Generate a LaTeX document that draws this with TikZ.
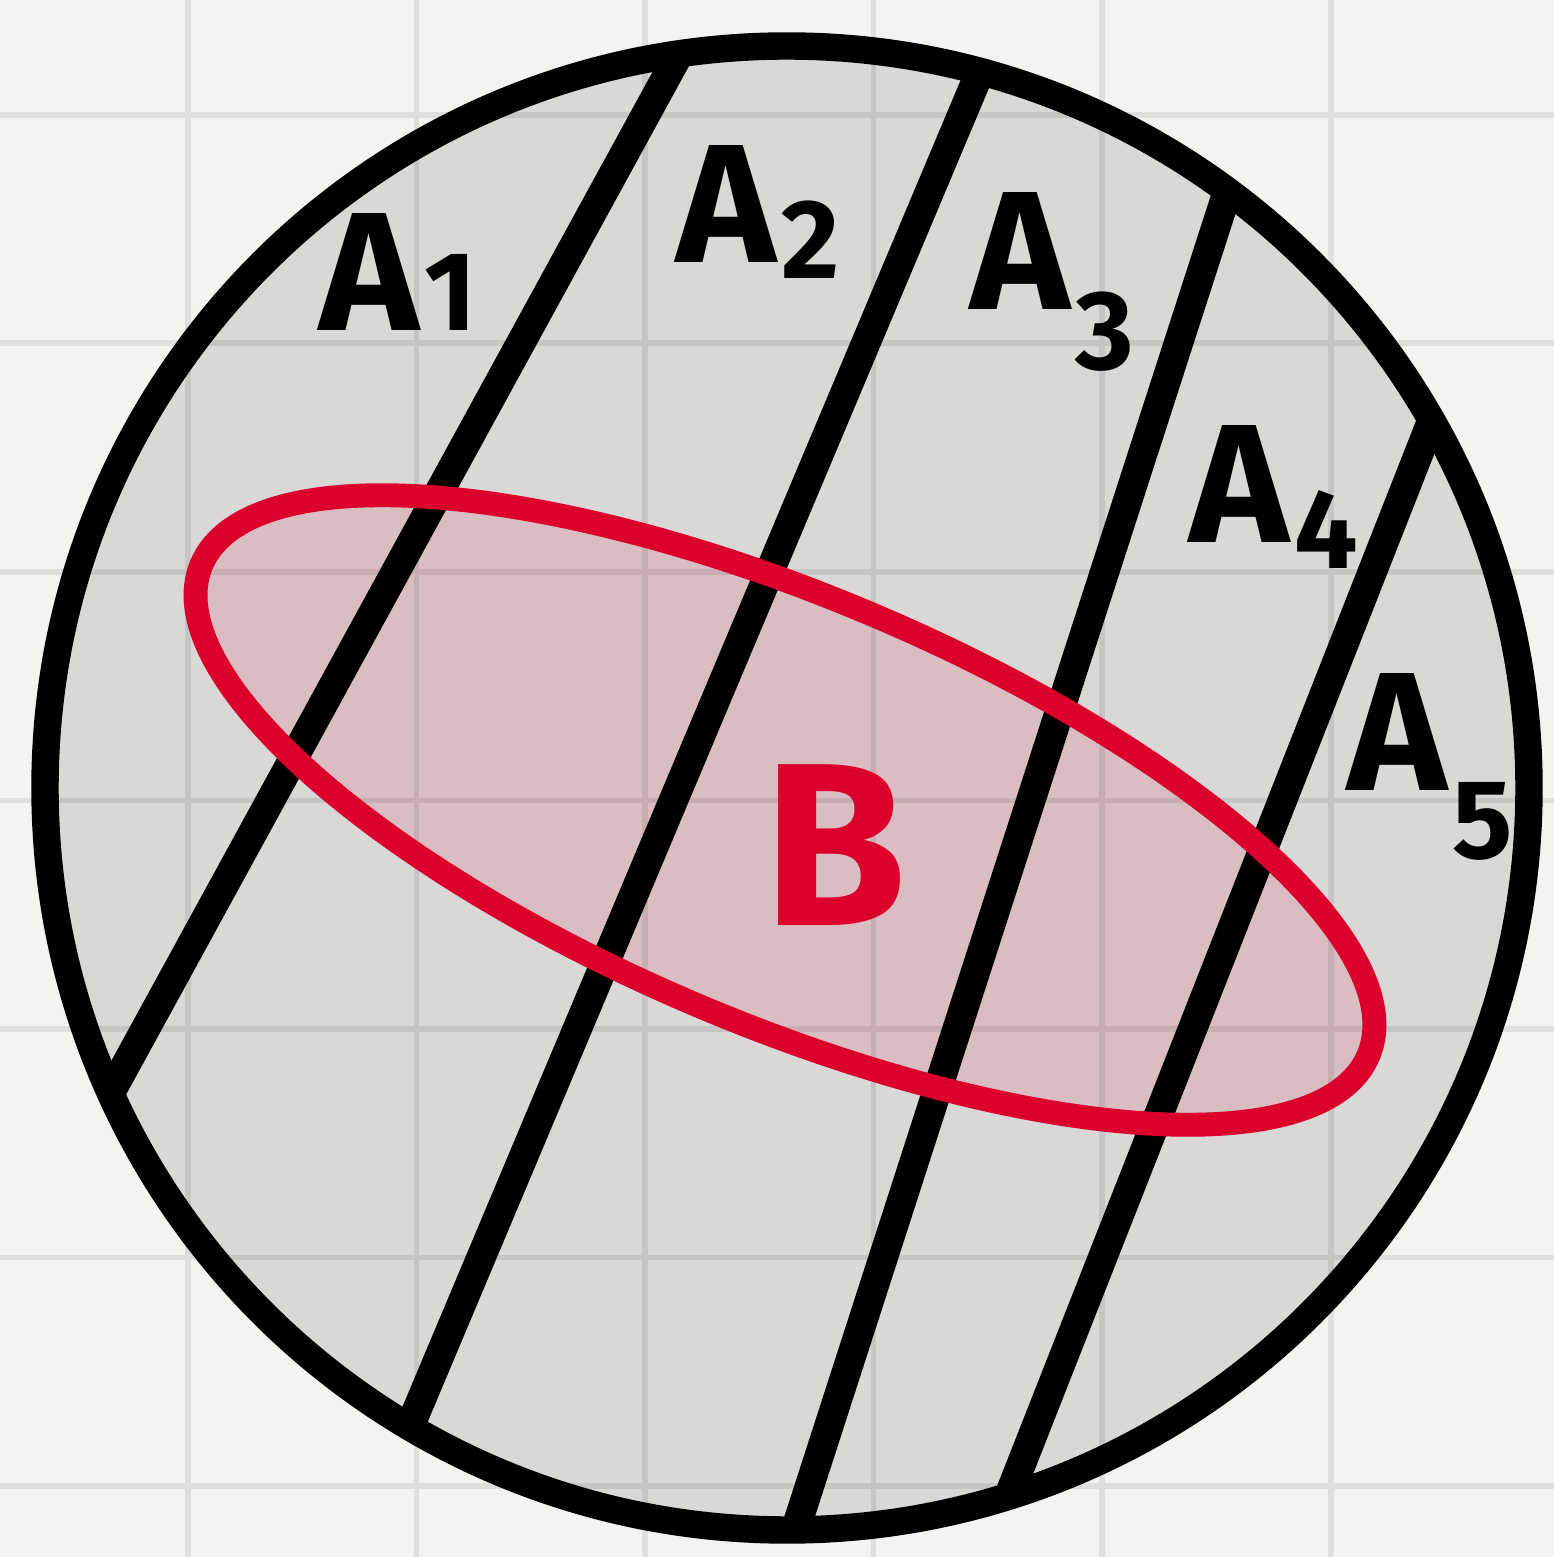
\documentclass[tikz,border=0pt]{standalone}
\usepackage{fontspec}
\setmainfont{Fira Sans}
\definecolor{bgc}{HTML}{F4F3F0}
\definecolor{gridc}{HTML}{DFDEDC}
\definecolor{bred}{HTML}{DC002D}
\newcommand{\sublab}[2]{\kern0.03em\raisebox{#1}{\fontsize{32}{32}\selectfont #2}}
\begin{document}
\begin{tikzpicture}[x=0.01cm,y=0.01cm,
  gridline/.style={draw=gridc, line width=1.7pt},
  part/.style={draw=black, line width=8.3pt},
  lab/.style={font=\fontsize{48}{48}\selectfont\bfseries, inner sep=0pt, text=black},
  blab/.style={font=\fontsize{66}{66}\selectfont\bfseries, inner sep=0pt, text=bred}]
\fill[bgc] (0,0) rectangle (1554,1557);
\useasboundingbox (0,0) rectangle (1554,1557);
\foreach \x in {188,416.5,645,873.5,1102,1330.5} \draw[gridline] (\x,0) -- (\x,1557);
\foreach \y in {1442,1213.5,985,756.5,528,299.5,71} \draw[gridline] (0,\y) -- (1554,\y);
\coordinate (O) at (787,769);
\coordinate (E) at (785,747);
% universe fill
\fill[black, opacity=0.11] (O) circle (742);
% B fill
\fill[bred, opacity=0.12, rotate around={-22.8:(E)}] (E) ellipse [x radius=633, y radius=214];
% partition lines
\coordinate (l1a) at (720,1578); \coordinate (l1b) at (60,372);
\coordinate (l2a) at (998,1528); \coordinate (l2b) at (387,76);
\coordinate (l3a) at (1245,1420); \coordinate (l3b) at (774,-39);
\coordinate (l4a) at (1445,1170); \coordinate (l4b) at (995,26);
\begin{scope}
\clip (O) circle (742);
\draw[part] (l1a) -- (l1b);
\draw[part] (l2a) -- (l2b);
\draw[part] (l3a) -- (l3b);
\draw[part] (l4a) -- (l4b);
\end{scope}
% B outline
\draw[bred, line width=6.8pt, rotate around={-22.8:(E)}] (E) ellipse [x radius=633, y radius=214];
% universe outline
\draw[line width=7.8pt] (O) circle (742);
% labels
\node[lab] (A1) at (398,1285) {A\sublab{0em}{1}};
\node[lab] (A2) at (758,1345) {A\sublab{-0.1em}{2}};
\node[lab] (A3) at (1052,1275) {A\sublab{-0.35em}{3}};
\node[lab] (A4) at (1274,1060) {A\sublab{-0.15em}{4}};
\node[lab] (A5) at (1430,790) {A\sublab{-0.4em}{5}};
\node[blab] (B) at (835,712) {B};
\end{tikzpicture}
\end{document}
